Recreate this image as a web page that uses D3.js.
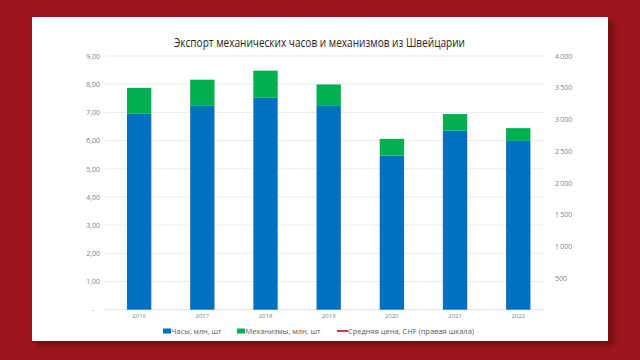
<!DOCTYPE html>
<html><head><meta charset="utf-8">
<script src="https://cdn.jsdelivr.net/npm/d3@7"></script>
<style>
html,body{margin:0;padding:0;background:#9d161e;}
svg{display:block;}
</style></head>
<body>
<svg id="c" width="640" height="360"></svg>
<script>
const title = "Экспорт механических часов и механизмов из Швейцарии";
const years = ["2016","2017","2018","2019","2020","2021","2022"];
const watches = [6.95, 7.23, 7.52, 7.23, 5.47, 6.35, 5.99];
const movements = [0.92, 0.93, 0.96, 0.76, 0.59, 0.59, 0.45];
const leftTicks = [0,1,2,3,4,5,6,7,8,9];
const rightTicks = [0,500,1000,1500,2000,2500,3000,3500,4000];
const legendLabels = ["Часы, млн, шт", "Механизмы, млн, шт", "Средняя цена, CHF (правая шкала)"];
const colors = ["#0070c0", "#00b050", "#c0282d"];

const svg = d3.select("#c");
// background + card
svg.append("rect").attr("width",640).attr("height",360).attr("fill","#9d161e");
svg.append("rect").attr("x",35).attr("y",20).attr("width",580).attr("height",326).attr("fill","#5e0c10").attr("opacity",0.55).style("filter","blur(2px)");
svg.append("rect").attr("x",32).attr("y",17).attr("width",576).attr("height",324).attr("fill","#ffffff");

const y = d3.scaleLinear().domain([0,9]).range([309.7,56]);
const yR = d3.scaleLinear().domain([0,4000]).range([309.7,56]);
const x = d3.scaleBand().domain(years).range([107.4,550.0]).paddingInner(0.615).paddingOuter(0.31);

// gridlines
svg.append("g").selectAll("line").data(leftTicks).join("line")
  .attr("x1",105).attr("x2",544).attr("y1",d=>y(d)).attr("y2",d=>y(d))
  .attr("stroke",d=>d===0?"#d9d9d9":"#e6e6e6").attr("stroke-width",0.8);

const font = "'Open Sans', 'Noto Sans', sans-serif";
// left axis
const fmtL = d => d===0 ? "-" : d3.format(".2f")(d).replace(".",",");
const gL = svg.append("g").attr("transform","translate(100,0)")
  .call(d3.axisLeft(y).tickValues(leftTicks).tickSize(0).tickPadding(0).tickFormat(fmtL));
gL.select(".domain").remove();
gL.selectAll("text").attr("font-family",font).attr("font-size",7).attr("fill","#7f7f7f").attr("dx", d=>d===0?-6:0);

// right axis
const fmtR = d => d===0 ? "" : d3.format(",")(d).replace(",","\u2009");
const gR = svg.append("g").attr("transform","translate(555,0)")
  .call(d3.axisRight(yR).tickValues(rightTicks).tickSize(0).tickPadding(0).tickFormat(fmtR));
gR.select(".domain").remove();
gR.selectAll("text").attr("font-family",font).attr("font-size",7).attr("fill","#7f7f7f");

// bars
const data = years.map((yr,i)=>({yr, w:watches[i], m:movements[i]}));
svg.append("g").selectAll("rect").data(data).join("rect")
  .attr("x",d=>x(d.yr)).attr("width",x.bandwidth())
  .attr("y",d=>y(d.w)).attr("height",d=>y(0)-y(d.w)).attr("fill",colors[0]);
svg.append("g").selectAll("rect").data(data).join("rect")
  .attr("x",d=>x(d.yr)).attr("width",x.bandwidth())
  .attr("y",d=>y(d.w+d.m)).attr("height",d=>y(d.w)-y(d.w+d.m)).attr("fill",colors[1]);

// x axis labels
const gX = svg.append("g").attr("transform","translate(0,314)")
  .call(d3.axisBottom(x).tickSize(0).tickPadding(0));
gX.select(".domain").remove();
gX.selectAll("text").attr("font-family",font).attr("font-size",6).attr("fill","#7f7f7f");

// title
svg.append("text").attr("x",319.5).attr("y",47).attr("text-anchor","middle")
  .attr("font-family",font).attr("font-size",12.5).attr("fill","#262626")
  .attr("textLength",291).attr("lengthAdjust","spacingAndGlyphs").text(title);

// legend
const lx = [163, 237, 337];
const lw = [50, 75, 126];
const lg = svg.append("g");
legendLabels.forEach((t,i)=>{
  if(i<2){
    lg.append("rect").attr("x",lx[i]).attr("y",328.5).attr("width",8).attr("height",5).attr("fill",colors[i]);
  } else {
    lg.append("line").attr("x1",lx[i]).attr("x2",lx[i]+11).attr("y1",331).attr("y2",331).attr("stroke",colors[i]).attr("stroke-width",1.8);
  }
  const tx = i<2 ? lx[i]+8.5 : lx[i]+11;
  lg.append("text").attr("x",tx).attr("y",333.8).attr("font-family",font).attr("font-size",8)
    .attr("fill","#595959").attr("textLength",lw[i]).attr("lengthAdjust","spacingAndGlyphs").text(t);
});
</script>
</body></html>
